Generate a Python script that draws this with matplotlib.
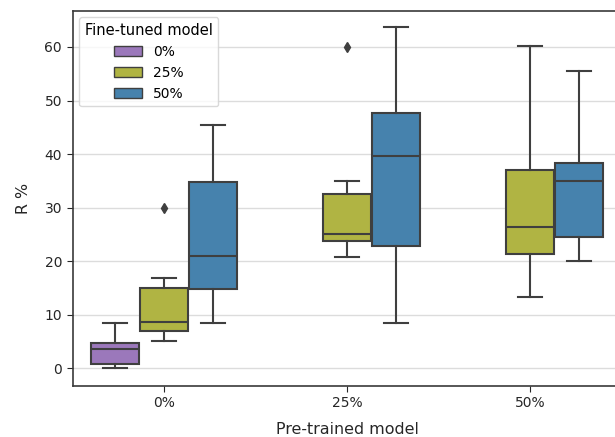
import matplotlib
matplotlib.use("Agg")
import matplotlib.pyplot as plt
from matplotlib.patches import Patch

# categorie dell'asse x e dei livelli di hue
pretrained = ["0%", "25%", "50%"]
finetuned = ["0%", "25%", "50%"]
colors = ["#9b78bb", "#b0b443", "#4682ad"]

# statistiche: (pretrained idx, finetuned idx)
groups = [(0, 0), (0, 1), (0, 2), (1, 1), (1, 2), (2, 1), (2, 2)]
whislo = [0.0, 5.1, 8.4, 20.8, 8.4, 13.4, 20.1]
q1 = [0.9, 6.9, 14.8, 23.8, 22.9, 21.4, 24.6]
med = [3.6, 8.6, 21.0, 25.1, 39.6, 26.4, 34.9]
q3 = [4.7, 15.1, 34.8, 32.5, 47.6, 37.0, 38.4]
whishi = [8.4, 16.8, 45.4, 35.0, 63.7, 60.1, 55.6]
fliers = [[], [30.0], [], [60.0], [], [], []]

line_color = "#3f3f3f"
n_hue = len(finetuned)
width = 0.8 / n_hue

fig = plt.figure(figsize=(6.15, 4.37), dpi=100)
# l'asse esce un po' a destra (come nell'originale ritagliato)
ax = fig.add_axes([72.5 / 615, 51.5 / 437, 549 / 615, 375 / 437])

stats = []
positions = []
for i, (p, f) in enumerate(groups):
    stats.append({
        "med": med[i], "q1": q1[i], "q3": q3[i],
        "whislo": whislo[i], "whishi": whishi[i], "fliers": fliers[i],
    })
    positions.append(p + (f - (n_hue - 1) / 2) * width)

bp = ax.bxp(
    stats, positions=positions, widths=width * 0.995, patch_artist=True,
    boxprops=dict(edgecolor=line_color, linewidth=1.5),
    medianprops=dict(color=line_color, linewidth=1.5),
    whiskerprops=dict(color=line_color, linewidth=1.5),
    capprops=dict(color=line_color, linewidth=1.5),
    flierprops=dict(marker="d", markerfacecolor=line_color, markeredgecolor=line_color,
                    markersize=5),
    manage_ticks=False,
)
for box, (p, f) in zip(bp["boxes"], groups):
    box.set_facecolor(colors[f])
    box.set_zorder(2)

ax.set_xlim(-0.5, len(pretrained) - 0.5)
ax.set_ylim(-3.18, 66.8)
ax.set_xticks(range(len(pretrained)))
ax.set_xticklabels(pretrained)
ax.set_yticks([0, 10, 20, 30, 40, 50, 60])
ax.tick_params(labelsize=10, colors="#262626", length=4)
ax.yaxis.grid(True, color="#dcdcdc", linewidth=1)
ax.set_axisbelow(True)
for s in ax.spines.values():
    s.set_color("#3a3a3a")
    s.set_linewidth(1.2)

ax.set_xlabel("Pre-trained model", fontsize=11.4, color="#262626", labelpad=9)
ax.set_ylabel("R %", fontsize=11.4, color="#262626", labelpad=10)

handles = [Patch(facecolor=c, edgecolor=line_color, label=l) for c, l in zip(colors, finetuned)]
leg = ax.legend(handles=handles, title="Fine-tuned model", loc="upper left",
                fontsize=10, title_fontsize=10.5)
leg.get_frame().set_edgecolor("#d0d0d0")

fig.savefig("out.png", dpi=100)
